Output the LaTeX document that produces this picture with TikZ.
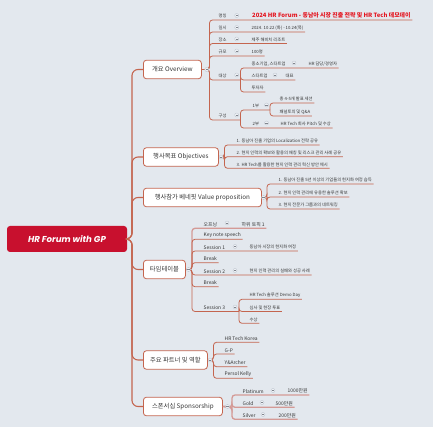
\documentclass[tikz,border=0pt]{standalone}
\usepackage{fontspec}
\setmainfont{Noto Sans CJK KR}
\newfontfamily\rootfont{Poppins}
\usepackage{tikz}
\usetikzlibrary{positioning,calc}
\definecolor{canvas}{HTML}{E3E8EE}
\definecolor{brick}{HTML}{C4654F}
\definecolor{rose}{HTML}{D49A96}
\definecolor{crimson}{HTML}{C8102E}
\definecolor{titlered}{HTML}{E3141E}
\definecolor{ink}{HTML}{363636}
\definecolor{foldbd}{HTML}{B7BEC9}
\definecolor{foldbg}{HTML}{EEF1F5}
\tikzset{
  rootbox/.style={fill=crimson,rounded corners=3pt,text=white,minimum width=120pt,
                  minimum height=26pt,font=\rootfont\bfseries\itshape\fontsize{8.6}{10}\selectfont},
  topic/.style={draw=brick,fill=white,rounded corners=3pt,line width=0.8pt,anchor=west,
                minimum height=18.5pt,inner xsep=4pt,text=ink,font=\fontsize{6.3}{7}\selectfont},
  leaf/.style={anchor=south west,inner xsep=1.5pt,inner ysep=1.6pt,text=ink,
               font=\fontsize{4.3}{5}\selectfont},
  sub/.style={leaf,font=\fontsize{4.9}{5.5}\selectfont},
  headline/.style={leaf,text=titlered,font=\bfseries\fontsize{5.9}{6.5}\selectfont},
  fold/.style={circle,draw=foldbd,fill=foldbg,line width=0.3pt,inner sep=0pt,minimum size=4pt,
    path picture={\draw[foldbd!70!black,line width=0.35pt]
      ([xshift=-1.1pt]path picture bounding box.center) --
      ([xshift=1.1pt]path picture bounding box.center);}},
  spine/.style={brick,line width=1.1pt,rounded corners=6pt},
  ul/.style={brick,line width=0.8pt,rounded corners=3pt},
  ulsoft/.style={rose,line width=1.3pt,rounded corners=3pt},
}
\begin{document}
\begin{tikzpicture}[x=1pt,y=-1pt]
  \useasboundingbox (0,0) rectangle (433,427);
  \fill[canvas] (0,0) rectangle (433,427);
  % root and main topics
  \node[rootbox] (root) at (67,239) {HR Forum with GP};
  \coordinate (spn) at (132,239);
  \node[topic,minimum width=58pt] (ov) at (143,69.5) {개요 Overview};
  \node[topic,minimum width=75pt] (obj) at (143,157) {행사목표 Objectives};
  \node[topic,minimum width=118pt] (val) at (143,197.5) {행사참가 베네핏 Value proposition};
  \node[topic,minimum width=42pt] (tt) at (143,269.5) {타임테이블};
  \node[topic,minimum width=64pt] (pt) at (143,360) {주요 파트너 및 역할};
  \node[topic,minimum width=79pt] (sp) at (143,406.5) {스폰서십 Sponsorship};
  % overview
  \coordinate (ovj) at (209.5,69.5);
  \node[leaf] (on) at (217,20) {명칭};
  \node[headline] (ont) at (250.5,20) {2024 HR Forum - 동남아 시장 진출 전략 및 HR Tech 데모데이};
  \node[leaf] (od) at (217,32) {일시};
  \node[leaf] (odt) at (250,32) {2024. 10.22 (화) - 10.24(목)};
  \node[leaf] (op) at (217,43.5) {장소};
  \node[leaf] (opt) at (250,43.5) {제주 해비치 리조트};
  \node[leaf] (os) at (217,56) {규모};
  \node[leaf] (ost) at (250,56) {100명};
  \node[leaf] (ot) at (217,80) {대상};
  \coordinate (otj) at (240.5,80);
  \node[leaf] (ot1) at (250,68) {중소기업, 스타트업};
  \node[leaf] (ot1a) at (307,68) {HR 담당/경영자};
  \node[leaf] (ot2) at (250,80) {스타트업};
  \node[leaf] (ot2a) at (284,80) {대표};
  \node[leaf] (ot3) at (250,92) {투자자};
  \node[leaf] (oc) at (217,120) {구성};
  \coordinate (ocj) at (240.5,120);
  \node[leaf] (oc1) at (251,110) {1부};
  \coordinate (oc1j) at (270,110);
  \node[leaf] (oc1a) at (278,103) {총 4-5개 발표 세션};
  \node[leaf] (oc1b) at (278,116) {패널토의 및 Q\&A};
  \node[leaf] (oc2) at (251,128) {2부};
  \node[leaf] (oc2a) at (279,128) {HR Tech 회사 Pitch 및 수상};
  % objectives
  \coordinate (objj) at (224.5,157);
  \node[leaf] (ob1) at (235,145) {1. 동남아 진출 기업의 Localization 전략 공유};
  \node[leaf] (ob2) at (235,156.7) {2. 현지 인력의 확보와 활용의 매칭 및 리스크 관리 사례 공유};
  \node[leaf] (ob3) at (235,168.3) {3. HR Tech를 활용한 현지 인력 관리 혁신 방안 제시};
  % value proposition
  \coordinate (valj) at (267,197.5);
  \node[leaf] (va1) at (277,184) {1. 동남아 진출 5년 이상의 기업들의 현지화 여정 습득};
  \node[leaf] (va2) at (277,197) {2. 현지 인력 관리에 유용한 솔루션 확보};
  \node[leaf] (va3) at (277,209) {3. 현지 전문가 그룹과의 네트워킹};
  % timetable
  \coordinate (ttj) at (192,269.5);
  \node[sub] (tt0) at (202,228.3) {오프닝};
  \node[sub] (tt0a) at (240,228.3) {하위 토픽 1};
  \node[sub] (tt1) at (202,239.3) {Key note speech};
  \node[sub] (tt2) at (202,251) {Session 1};
  \node[leaf] (tt2a) at (248,251) {동남아 시장의 현지화 여정};
  \node[sub] (tt3) at (202,262.7) {Break};
  \node[sub] (tt4) at (202,275) {Session 2};
  \node[leaf] (tt4a) at (248,275) {현지 인력 관리의 실패와 성공 사례};
  \node[sub] (tt5) at (202,286.7) {Break};
  \node[sub] (tt6) at (202,311.5) {Session 3};
  \coordinate (tt6j) at (239,311.5);
  \node[leaf] (tt6a) at (248,299.3) {HR Tech 솔루션 Demo Day};
  \node[leaf] (tt6b) at (248,311.5) {심사 및 현장 투표};
  \node[leaf] (tt6c) at (248,323.3) {수상};
  % partners
  \coordinate (ptj) at (213.5,360);
  \node[sub] (pt1) at (223,342.3) {HR Tech Korea};
  \node[sub] (pt2) at (223,354) {G-P};
  \node[sub] (pt3) at (223,366.7) {Y\&Archer};
  \node[sub] (pt4) at (223,378.3) {Persol Kelly};
  % sponsorship
  \coordinate (spj) at (232,407);
  \node[sub] (sp1) at (241,395) {Platinum};
  \node[sub] (sp1a) at (286,395) {1000만원};
  \node[sub] (sp2) at (241,407.3) {Gold};
  \node[sub] (sp2a) at (274,407.3) {500만원};
  \node[sub] (sp3) at (241,419.3) {Silver};
  \node[sub] (sp3a) at (277,419.3) {200만원};
  % connectors
  \foreach \t in {ov,obj,val,tt,pt,sp}
    \draw[spine] (root.east) -- (spn) |- (\t.west);
  \foreach \c in {ont,odt,opt,ost,otj,ocj}
    \draw[ul] (ov.east) -- (ovj) |- (\c.south east);
  \foreach \c in {ot1a,ot2a,ot3}
    \draw[ul] (otj) |- (\c.south east);
  \foreach \c in {oc1j,oc2a}
    \draw[ul] (ocj) |- (\c.south east);
  \foreach \c in {oc1a,oc1b}
    \draw[ul] (oc1j) |- (\c.south east);
  \foreach \c in {ob1,ob2,ob3}
    \draw[ul] (obj.east) -- (objj) |- (\c.south east);
  \foreach \c in {va1,va2,va3}
    \draw[ul] (val.east) -- (valj) |- (\c.south east);
  \draw[ulsoft] (tt.east) -- (ttj) |- (tt0a.south east);
  \foreach \c in {tt1,tt2a,tt3,tt4a,tt5,tt6j}
    \draw[ul] (tt.east) -- (ttj) |- (\c.south east);
  \foreach \c in {tt6a,tt6b,tt6c}
    \draw[ul] (tt6j) |- (\c.south east);
  \foreach \c in {pt1,pt2,pt3,pt4}
    \draw[ul] (pt.east) -- (ptj) |- (\c.south east);
  \foreach \c in {sp1a,sp2a,sp3a}
    \draw[ulsoft] (sp.east) -- (spj) |- (\c.south east);
  % fold markers
  \node[fold] (ovf) at (206.7,69.5) {};
  \node[fold] (objf) at (221,157) {};
  \node[fold] (valf) at (263.5,197.5) {};
  \node[fold] (ttf) at (188.5,269.5) {};
  \node[fold] (ptf) at (210,360) {};
  \node[fold] (spf) at (227.5,406.5) {};
  \foreach \y in {15.5,27.5,39,51,75,115}
    \node[fold] at (236.7,\y) {};
  \node[fold] (ot1f) at (294,63) {};
  \node[fold] (ot2f) at (275,75) {};
  \node[fold] (oc1f) at (266.5,105) {};
  \node[fold] (oc2f) at (266.5,123) {};
  \node[fold] (tt0f) at (227,223) {};
  \node[fold] (tt2f) at (235,246.5) {};
  \node[fold] (tt4f) at (235,270.5) {};
  \node[fold] (tt6f) at (235,307) {};
  \node[fold] (sp1f) at (273,390.5) {};
  \node[fold] (sp2f) at (262,402.5) {};
  \node[fold] (sp3f) at (263,414.5) {};
\end{tikzpicture}
\end{document}
